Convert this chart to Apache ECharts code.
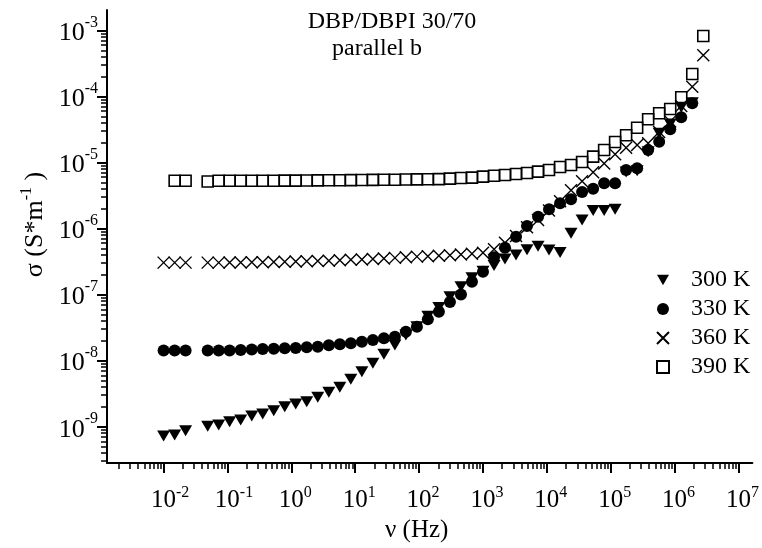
<!DOCTYPE html>
<html>
<head>
<meta charset="utf-8">
<script src="https://cdn.jsdelivr.net/npm/echarts@6/dist/echarts.min.js"></script>
<style>
html, body { margin: 0; padding: 0; background: #fff; }
#main { width: 762px; height: 548px; }
</style>
</head>
<body>
<div id="main"></div>
<script>
// measurement frequencies (Hz)
var freq = [0.01, 0.0149, 0.0221, 0.049, 0.0729, 0.108, 0.161, 0.24, 0.356, 0.53, 0.788,
    1.17, 1.74, 2.59, 3.86, 5.74, 8.53, 12.7, 18.9, 28.1, 41.8, 62.1, 92.4, 137, 204, 304, 452, 672,
    1000, 1490, 2210, 3290, 4890, 7280, 10800, 16100, 23900, 35600, 53000, 78800,
    117000, 174000, 259000, 385000, 573000, 853000, 1270000, 1890000, 2810000];

// conductivity (S/m), null = no point
var s300 = [7.2e-10, 7.5e-10, 8.7e-10,
    1.02e-9, 1.06e-9, 1.19e-9, 1.26e-9, 1.45e-9, 1.56e-9, 1.75e-9, 2.01e-9, 2.2e-9, 2.39e-9,
    2.79e-9, 3.32e-9, 3.95e-9, 5.22e-9, 6.81e-9, 9.12e-9, 1.25e-8, 1.73e-8, 2.45e-8, 3.27e-8,
    4.7e-8, 6.4e-8, 9.3e-8, 1.32e-7, 1.8e-7, 2.25e-7, 2.76e-7, 3.46e-7, 3.98e-7, 4.79e-7,
    5.39e-7, 4.74e-7, 4.35e-7, 8.49e-7, 1.35e-6, 1.87e-6, 1.88e-6, 1.96e-6, 7.2e-6, 7.5e-6,
    1.46e-5, 2.77e-5, 3.84e-5, 6.87e-5, 8.07e-5, null];
var s330 = [1.42e-8, 1.42e-8, 1.42e-8,
    1.42e-8, 1.42e-8, 1.42e-8, 1.45e-8, 1.48e-8, 1.5e-8, 1.52e-8, 1.54e-8, 1.56e-8, 1.59e-8,
    1.63e-8, 1.71e-8, 1.77e-8, 1.83e-8, 1.94e-8, 2.05e-8, 2.18e-8, 2.31e-8, 2.75e-8, 3.27e-8,
    4.23e-8, 5.5e-8, 7.7e-8, 1.0e-7, 1.57e-7, 2.22e-7, 3.67e-7, 5.13e-7, 7.53e-7, 1.09e-6,
    1.51e-6, 1.96e-6, 2.42e-6, 2.78e-6, 3.58e-6, 4.02e-6, 4.85e-6, 4.85e-6, 7.71e-6, 8.18e-6,
    1.55e-5, 2.07e-5, 3.19e-5, 4.84e-5, 7.88e-5, null];
var s360 = [3.05e-7, 3.05e-7, 3.05e-7,
    3.05e-7, 3.05e-7, 3.06e-7, 3.07e-7, 3.08e-7, 3.1e-7, 3.12e-7, 3.14e-7, 3.17e-7, 3.2e-7,
    3.23e-7, 3.27e-7, 3.31e-7, 3.36e-7, 3.41e-7, 3.47e-7, 3.53e-7, 3.6e-7, 3.68e-7, 3.76e-7,
    3.8e-7, 3.88e-7, 3.95e-7, 4.05e-7, 4.15e-7, 4.3e-7, 4.85e-7, 6.1e-7, 7.7e-7, 1.05e-6,
    1.35e-6, 1.87e-6, 2.6e-6, 3.8e-6, 5.2e-6, 7.1e-6, 9.7e-6, 1.34e-5, 1.68e-5, 1.85e-5,
    1.96e-5, 2.9e-5, 4.2e-5, 7.2e-5, 1.41e-4, 4.2e-4];
var s390 = [null, 5.3e-6, 5.3e-6,
    5.15e-6, 5.3e-6, 5.3e-6, 5.3e-6, 5.3e-6, 5.3e-6, 5.3e-6, 5.32e-6, 5.33e-6, 5.35e-6,
    5.36e-6, 5.38e-6, 5.4e-6, 5.42e-6, 5.44e-6, 5.46e-6, 5.48e-6, 5.5e-6, 5.52e-6, 5.55e-6,
    5.57e-6, 5.6e-6, 5.7e-6, 5.84e-6, 5.9e-6, 6.11e-6, 6.32e-6, 6.48e-6, 6.71e-6, 6.95e-6,
    7.27e-6, 7.71e-6, 8.57e-6, 9.18e-6, 1.02e-5, 1.23e-5, 1.55e-5, 2.05e-5, 2.59e-5, 3.37e-5,
    4.52e-5, 5.57e-5, 6.47e-5, 9.73e-5, 2.19e-4, 8.26e-4];

var names = ['300 K', '330 K', '360 K', '390 K'];

// tick positions
var xMajor = [1e-2, 1e-1, 1, 1e1, 1e2, 1e3, 1e4, 1e5, 1e6, 1e7];
var yMajor = [1e-9, 1e-8, 1e-7, 1e-6, 1e-5, 1e-4, 1e-3];
var xRange = [0.0013, 1.65e7];
var yRange = [2.82e-10, 2.04e-3];

function minorTicks(range) {
    var out = [];
    var lo = Math.floor(Math.log10(range[0]));
    var hi = Math.ceil(Math.log10(range[1]));
    for (var n = lo; n < hi; n++) {
        for (var m = 2; m <= 9; m++) {
            var v = Number((m * Math.pow(10, n)).toPrecision(3));
            if (v > range[0] && v < range[1] * 0.98) out.push(v);
        }
    }
    return out;
}

function pairs(vals) {
    var out = [];
    vals.forEach(function (v, i) {
        if (v != null) out.push([freq[i], v]);
    });
    return out;
}

var FONT = 'Liberation Serif';
var supStyle = { fontFamily: FONT, fontSize: 16, color: '#000', padding: [0, 0, 15, 0] };

var chart = echarts.init(document.getElementById('main'));
window.addEventListener('resize', function () { chart.resize(); });

var baseAxis = {
    type: 'log',
    logBase: 10,
    splitLine: { show: false },
    minorSplitLine: { show: false },
    axisLine: { show: true, lineStyle: { color: '#000', width: 2 } }
};

var option = {
    animation: false,
    backgroundColor: '#fff',
    title: [
        { text: 'DBP/DBPI 30/70', left: 392, top: 10, textAlign: 'center', padding: 0,
          textStyle: { fontFamily: FONT, fontSize: 24, fontWeight: 'normal', color: '#000' } },
        { text: 'parallel b', left: 377, top: 37, textAlign: 'center', padding: 0,
          textStyle: { fontFamily: FONT, fontSize: 24, fontWeight: 'normal', color: '#000' } }
    ],
    grid: { left: 107, right: 4, top: 10, bottom: 85 },
    legend: {
        orient: 'vertical',
        left: 651,
        top: 263,
        itemWidth: 12,
        itemHeight: 12,
        itemGap: 5,
        data: names,
        textStyle: { fontFamily: FONT, fontSize: 24, color: '#000', lineHeight: 24, padding: [0, 0, 0, 17] }
    },
    xAxis: [
        Object.assign({}, baseAxis, {
            position: 'bottom',
            min: xRange[0],
            max: xRange[1],
            name: 'ν (Hz)',
            nameLocation: 'middle',
            nameGap: 54,
            nameTextStyle: { fontFamily: FONT, fontSize: 25, color: '#000', padding: [0, 26, 0, 0] },
            axisTick: { show: true, length: 10, customValues: xMajor, lineStyle: { color: '#000', width: 2 } },
            axisLabel: {
                customValues: xMajor,
                margin: 22,
                formatter: function (v) {
                    var e = Math.round(Math.log10(v));
                    return '{' + (e < 0 ? 'bn' : 'bp') + '|10}{s|' + e + '}';
                },
                rich: {
                    bn: { fontFamily: FONT, fontSize: 25, color: '#000', padding: [0, 0, 0, 13] },
                    bp: { fontFamily: FONT, fontSize: 25, color: '#000', padding: [0, 0, 0, 8] },
                    s: supStyle
                }
            }
        }),
        Object.assign({}, baseAxis, {
            position: 'bottom',
            min: xRange[0],
            max: xRange[1],
            axisLine: { show: false },
            axisTick: { show: true, length: 6, customValues: minorTicks(xRange), lineStyle: { color: '#000', width: 1.5 } },
            axisLabel: { show: false }
        })
    ],
    yAxis: [
        Object.assign({}, baseAxis, {
            position: 'left',
            min: yRange[0],
            max: yRange[1],
            name: 'σ (S*m{s|-1} )',
            nameLocation: 'middle',
            nameGap: 52,
            nameRotate: 90,
            nameTextStyle: { fontFamily: FONT, fontSize: 26, color: '#000', padding: [0, 0, 0, 24], rich: { s: supStyle } },
            axisTick: { show: true, length: 10, customValues: yMajor, lineStyle: { color: '#000', width: 2 } },
            axisLabel: {
                customValues: yMajor,
                margin: 9,
                formatter: function (v) {
                    var e = Math.round(Math.log10(v));
                    return '{b|10}{s|' + e + '}';
                },
                rich: {
                    b: { fontFamily: FONT, fontSize: 26, color: '#000', padding: [6, 0, 0, 0] },
                    s: supStyle
                }
            }
        }),
        Object.assign({}, baseAxis, {
            position: 'left',
            min: yRange[0],
            max: yRange[1],
            axisLine: { show: false },
            axisTick: { show: true, length: 6, customValues: minorTicks(yRange), lineStyle: { color: '#000', width: 1.5 } },
            axisLabel: { show: false }
        })
    ],
    series: [
        {
            name: names[0], type: 'scatter', xAxisIndex: 0, yAxisIndex: 0,
            symbol: 'path://M0,0L10,0L5,8.7Z', symbolSize: [13, 11],
            itemStyle: { color: '#000', opacity: 1 },
            data: pairs(s300)
        },
        {
            name: names[1], type: 'scatter', xAxisIndex: 0, yAxisIndex: 0,
            symbol: 'circle', symbolSize: 12,
            itemStyle: { color: '#000', opacity: 1 },
            data: pairs(s330)
        },
        {
            name: names[2], type: 'scatter', xAxisIndex: 0, yAxisIndex: 0,
            symbol: 'path://M0,0L10,10M10,0L0,10', symbolSize: 12,
            itemStyle: { color: 'rgba(0,0,0,0)', borderColor: '#000', borderWidth: 1.4, opacity: 1 },
            data: pairs(s360)
        },
        {
            name: names[3], type: 'scatter', xAxisIndex: 0, yAxisIndex: 0,
            symbol: 'rect', symbolSize: 11,
            itemStyle: { color: 'rgba(0,0,0,0)', borderColor: '#000', borderWidth: 1.6, opacity: 1 },
            data: pairs(s390)
        }
    ]
};

chart.setOption(option);
</script>
</body>
</html>
